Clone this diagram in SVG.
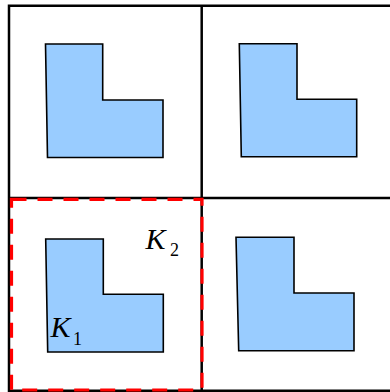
<svg xmlns="http://www.w3.org/2000/svg" width="390" height="392" viewBox="0 0 390 392">
<style>
.grid{fill:none;stroke:#000;stroke-width:2.5}
.shape{fill:#99ccff;stroke:#000;stroke-width:1.6;stroke-linejoin:miter}
.sel{fill:none;stroke:#ff0000;stroke-width:3.2;stroke-dasharray:15 11}
.k{font-family:"Liberation Serif","Times New Roman",serif;font-style:italic;fill:#000}
.sub{font-family:"Liberation Serif","Times New Roman",serif;fill:#000}
</style>
<rect width="390" height="392" fill="#fff"/>
<g id="grid">
<polyline class="grid" points="392,5.8 9,5.8 9,390.8 392,390.8"/>
<line class="grid" x1="201.7" y1="5.8" x2="201.7" y2="390.8"/>
<line class="grid" x1="9" y1="198" x2="392" y2="198"/>
</g>
<g id="L1"><polygon class="shape" points="45.5,44 102.7,44 102.7,100 163,100 163,157.5 47.5,157.5"/></g>
<g id="L2"><polygon class="shape" points="239.3,43.7 297,43.7 297,99.3 356.7,99.3 356.7,156.7 241.3,156.7"/></g>
<g id="L3"><polygon class="shape" points="45.7,239 103.3,239 103.3,294.3 163.3,294.3 163.3,352 47.7,352"/></g>
<g id="L4"><polygon class="shape" points="236,237.3 294,237.3 294,293 354,293 354,350.7 238.7,350.7"/></g>
<g id="selection"><rect class="sel" x="11.5" y="199.3" width="190.5" height="190.7"/></g>
<g id="K2"><text class="k" x="145.5" y="249" font-size="30">K</text><text class="sub" x="170" y="256" font-size="18">2</text></g>
<g id="K1"><text class="k" x="50.5" y="337" font-size="30">K</text><text class="sub" x="73" y="344.5" font-size="18">1</text></g>
</svg>
